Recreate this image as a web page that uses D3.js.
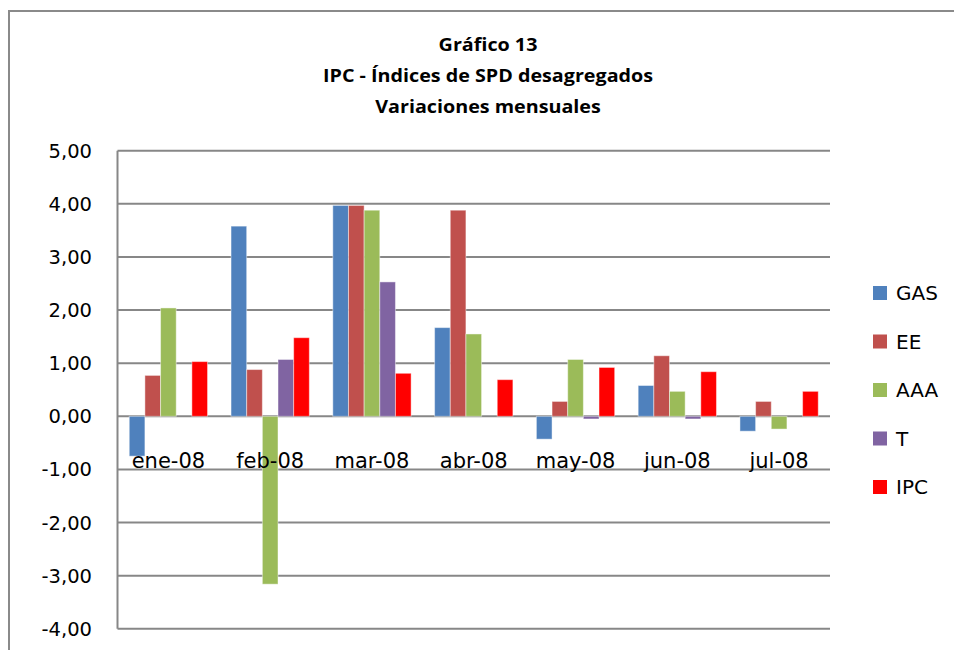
<!DOCTYPE html>
<html><head><meta charset="utf-8">
<script src="https://cdn.jsdelivr.net/npm/d3@7"></script>
<style>body{margin:0;background:#fff}svg{display:block}</style>
</head><body>
<script>
const categories = ["ene-08","feb-08","mar-08","abr-08","may-08","jun-08","jul-08"];
const seriesNames = ["GAS","EE","AAA","T","IPC"];
const colors = ["#4F81BD","#C0504D","#9BBB59","#8064A2","#FF0000"];
const GAS = [-0.75, 3.58, 3.97, 1.67, -0.43, 0.58, -0.28];
const EE  = [0.77, 0.88, 3.97, 3.88, 0.28, 1.14, 0.28];
const AAA = [2.04, -3.16, 3.88, 1.55, 1.07, 0.47, -0.24];
const T   = [0.00, 1.07, 2.53, 0.00, -0.05, -0.05, 0.00];
const IPC = [1.03, 1.48, 0.81, 0.69, 0.92, 0.84, 0.47];
const yTicks = [5,4,3,2,1,0,-1,-2,-3,-4];
const titleLines = ["Gráfico 13","IPC - Índices de SPD desagregados","Variaciones mensuales"];
const seriesValues = [GAS, EE, AAA, T, IPC];

(function(){
const W = 954, H = 650;
const svg = d3.select("body").append("svg").attr("width", W).attr("height", H);

// outer frame
svg.append("path").attr("d", `M9,${H+5} L9,11 L${W+5},11`).attr("fill","none")
  .attr("stroke","#8a8a8a").attr("stroke-width",2);

const pL = 117.5, pR = 830, pT = 150.7, pB = 628.8;
const y = d3.scaleLinear().domain([-4,5]).range([pB, pT]);
const x0 = d3.scaleBand().domain(categories).range([pL, pR]).paddingInner(0).paddingOuter(0);
const bw = x0.bandwidth() / 6.5;
const x1 = d3.scaleBand().domain(seriesNames).range([bw*0.75, bw*5.75]);

// gridlines
svg.append("g").selectAll("line").data(yTicks).join("line")
  .attr("x1", pL).attr("x2", pR)
  .attr("y1", d => y(d)).attr("y2", d => y(d))
  .attr("stroke","#878787").attr("stroke-width",2);
// y axis line
svg.append("line").attr("x1",pL).attr("x2",pL).attr("y1",y(5)).attr("y2",y(-4))
  .attr("stroke","#878787").attr("stroke-width",2);

// y labels
const fmt = v => d3.format(".2f")(v).replace(".", ",").replace("\u2212", "-");
svg.append("g").selectAll("text").data(yTicks).join("text")
  .attr("x", 92).attr("y", d => y(d)).attr("dy","0.36em")
  .attr("text-anchor","end")
  .attr("font-family","'DejaVu Sans', sans-serif").attr("font-size",19.5)
  .attr("fill","#000").text(fmt);

// bars
const g = svg.append("g");
categories.forEach((c, i) => {
  seriesNames.forEach((s, k) => {
    const v = seriesValues[k][i];
    if (v === 0) return;
    g.append("rect")
      .attr("x", x0(c) + x1(s))
      .attr("width", x1.bandwidth())
      .attr("y", y(Math.max(0, v)))
      .attr("height", Math.abs(y(v) - y(0)))
      .attr("fill", colors[k])
      .attr("stroke", "rgba(255,255,255,0.45)").attr("stroke-width", 1);
  });
});

// category labels
svg.append("g").selectAll("text").data(categories).join("text")
  .attr("x", d => x0(d) + x0.bandwidth()/2).attr("y", y(0) + 52)
  .attr("text-anchor","middle")
  .attr("font-family","'DejaVu Sans', sans-serif").attr("font-size",21)
  .attr("fill","#000").text(d => d);

// title
svg.append("g").attr("transform","translate(488,0) scale(1.16,1)")
  .selectAll("text").data(titleLines).join("text")
  .attr("x", 0).attr("y", (d,i) => 51 + i*31)
  .attr("text-anchor","middle")
  .attr("font-family","'Open Sans', sans-serif").attr("font-weight","bold").attr("font-size",17)
  .attr("fill","#000").text(d => d);

// legend
const leg = svg.append("g");
const legY = [293, 341.5, 390, 438.5, 487];
seriesNames.forEach((s, k) => {
  leg.append("rect").attr("x",873).attr("y",legY[k]-7).attr("width",14).attr("height",14).attr("fill",colors[k]);
  leg.append("text").attr("x",896).attr("y",legY[k]).attr("dy","0.36em")
    .attr("font-family","'DejaVu Sans', sans-serif").attr("font-size",20).attr("fill","#000").text(s);
});
})();
</script>
</body></html>
